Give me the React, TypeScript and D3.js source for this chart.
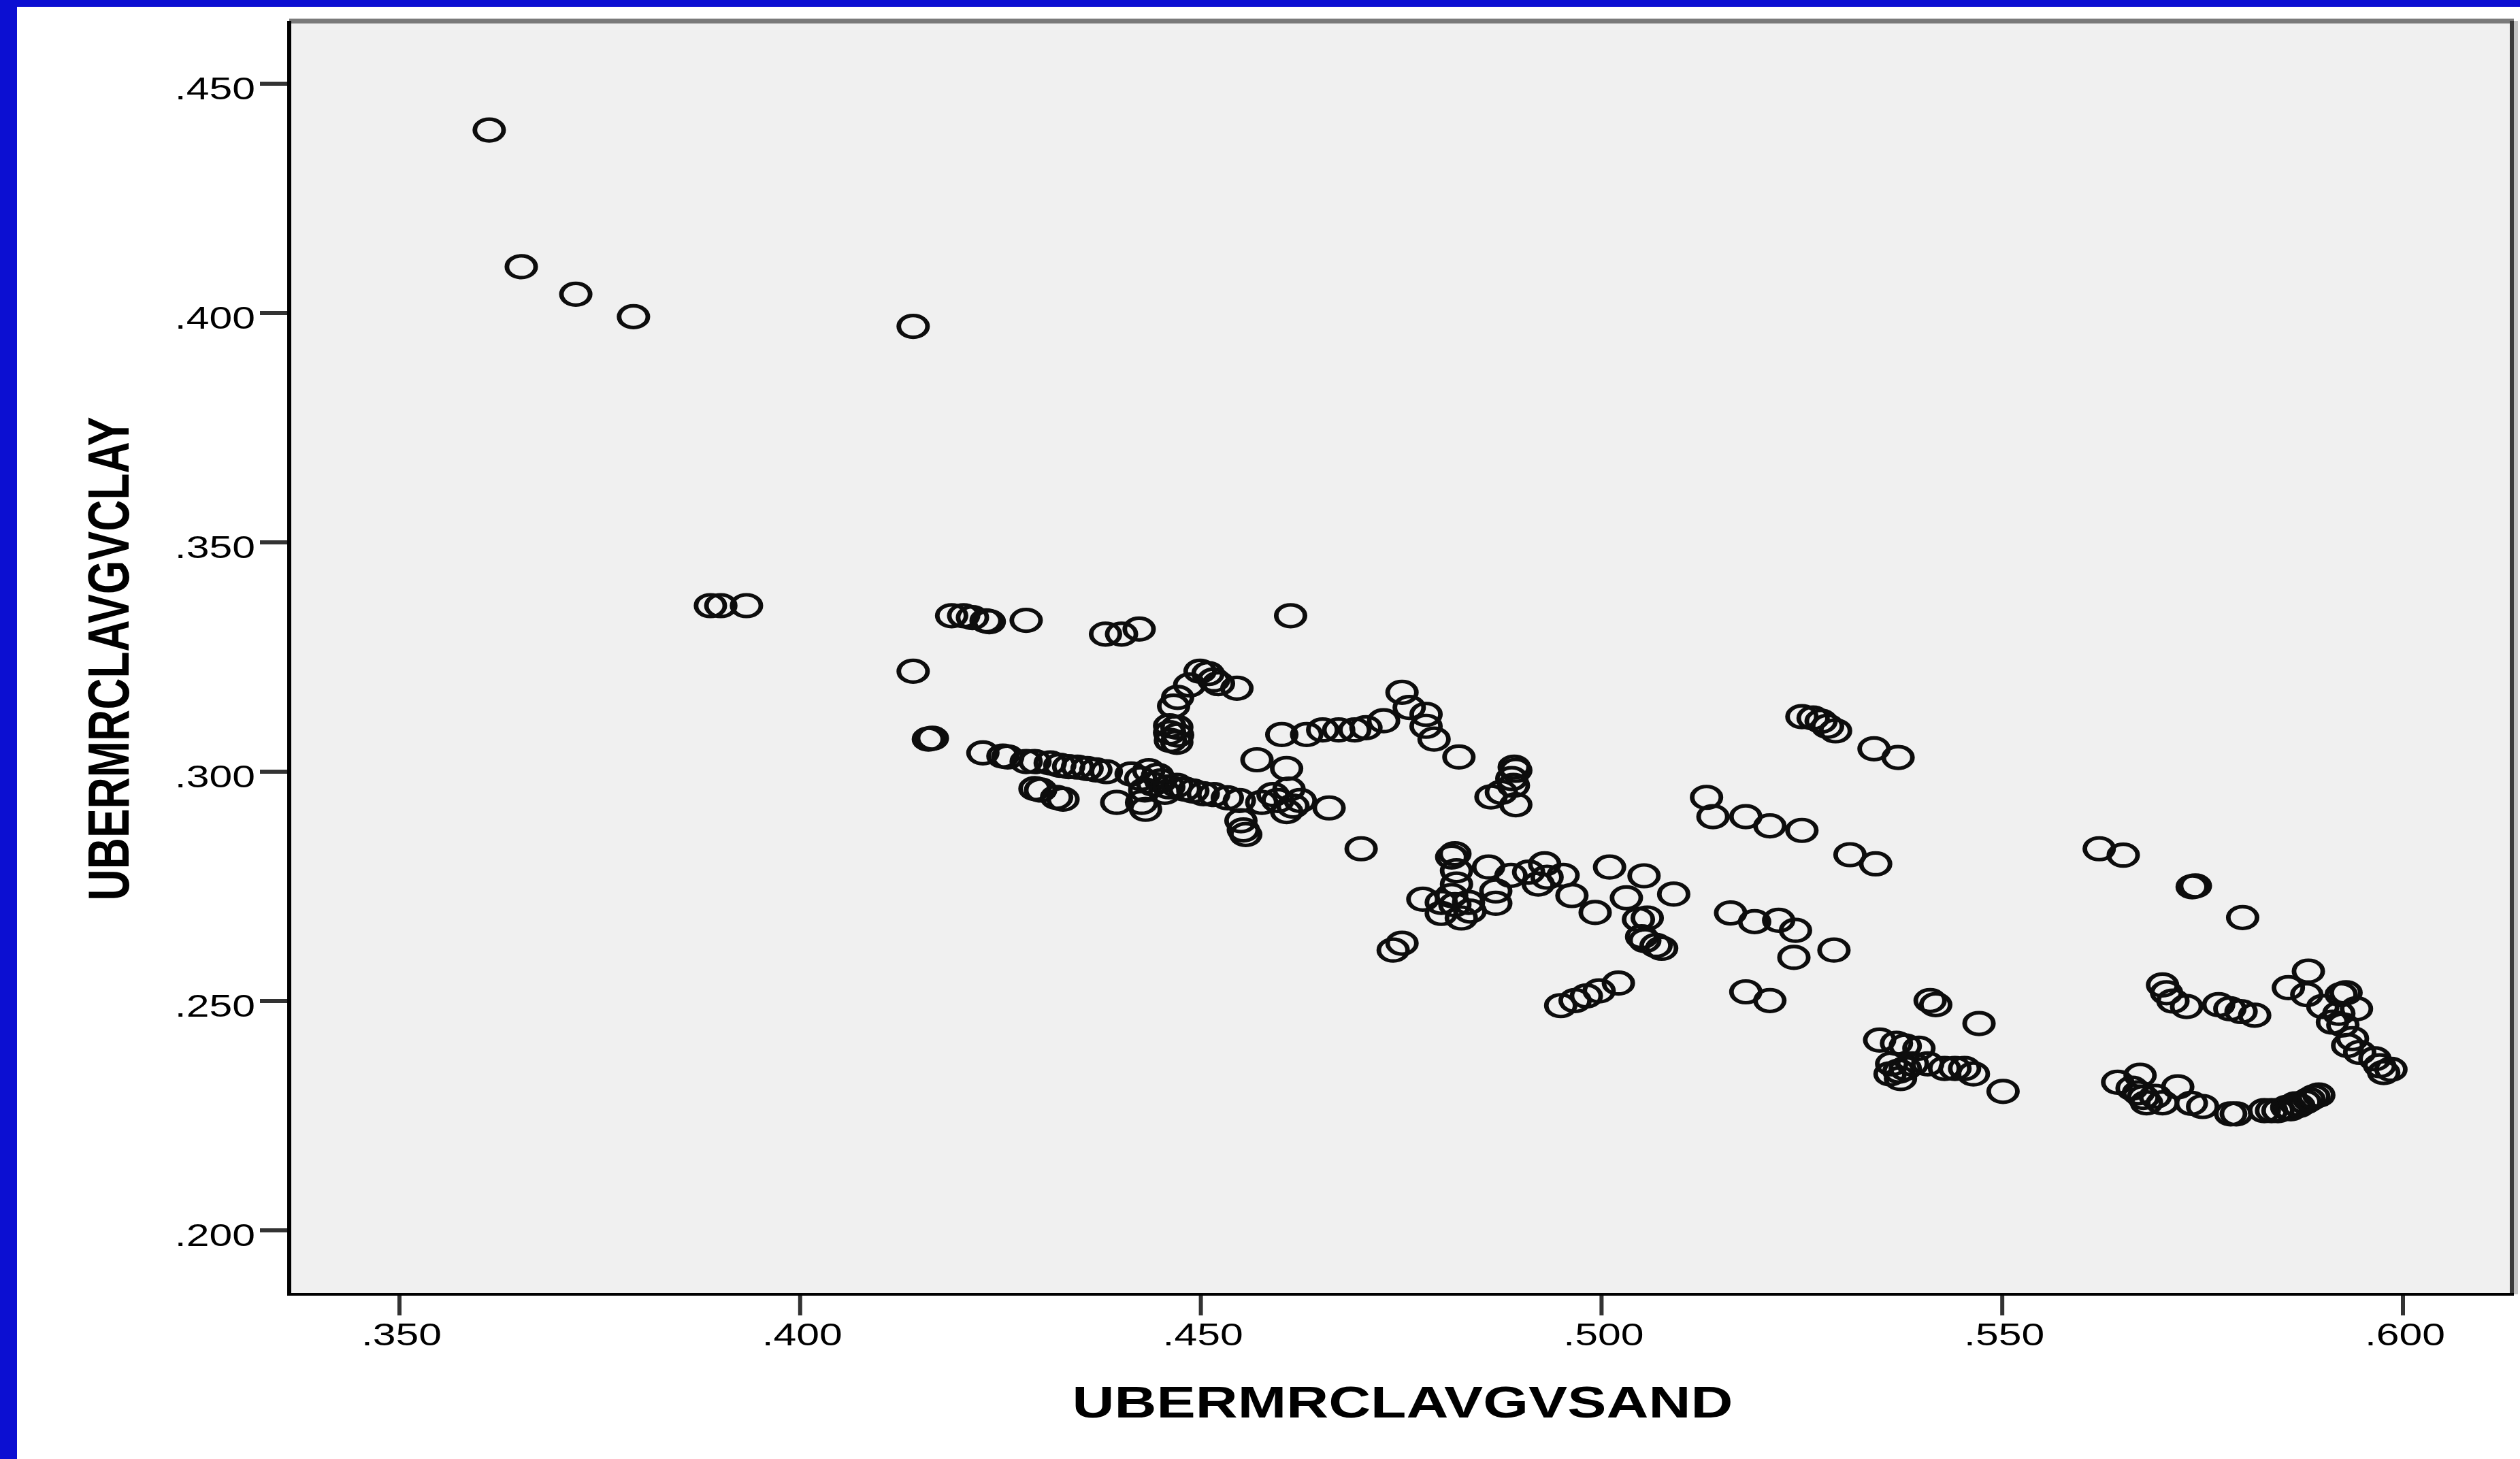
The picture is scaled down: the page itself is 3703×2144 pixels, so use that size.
import * as d3 from "d3";

// axis ticks and titles
const xTicks = [0.35, 0.4, 0.45, 0.5, 0.55, 0.6];
const yTicks = [0.2, 0.25, 0.3, 0.35, 0.4, 0.45];
const xTitle = "UBERMRCLAVGVSAND";
const yTitle = "UBERMRCLAVGVCLAY";

// [avg sand, avg clay]
const observations: [number, number][] = [
  [0.3612, 0.4399], [0.3652, 0.4101], [0.372, 0.4041], [0.3792, 0.3992], [0.4141, 0.3971],
  [0.3888, 0.3362], [0.3901, 0.3362], [0.3933, 0.3362],
  [0.4141, 0.3219], [0.416, 0.3071], [0.4165, 0.3073],
  [0.4189, 0.334], [0.4204, 0.334], [0.4215, 0.3336], [0.4232, 0.3329], [0.4236, 0.3327], [0.4282, 0.333],
  [0.4381, 0.33], [0.4401, 0.33], [0.4423, 0.3311],
  [0.4612, 0.334],
  [0.4466, 0.3143], [0.4471, 0.3162], [0.4486, 0.3189], [0.4499, 0.3219], [0.4509, 0.3214],
  [0.4516, 0.32], [0.4522, 0.3192], [0.4545, 0.3182],
  [0.4461, 0.31], [0.447, 0.3097], [0.4461, 0.3085], [0.4471, 0.308], [0.4462, 0.3068], [0.447, 0.3064],
  [0.4228, 0.3041], [0.4253, 0.3034], [0.4259, 0.3032], [0.4282, 0.3022], [0.4293, 0.3022],
  [0.4312, 0.3019], [0.4324, 0.3014], [0.4335, 0.3011], [0.4346, 0.301], [0.4358, 0.3007],
  [0.4369, 0.3004], [0.4382, 0.3],
  [0.4293, 0.2963], [0.43, 0.296], [0.432, 0.2944], [0.4328, 0.294],
  [0.4395, 0.2933], [0.4426, 0.2933], [0.4431, 0.2918],
  [0.4413, 0.2995], [0.4435, 0.3002], [0.4446, 0.2992], [0.4425, 0.2985], [0.445, 0.298],
  [0.444, 0.2973], [0.443, 0.296], [0.4455, 0.2955], [0.446, 0.2967], [0.447, 0.297],
  [0.448, 0.2962], [0.449, 0.2958], [0.4503, 0.2952], [0.4516, 0.295], [0.4533, 0.2943],
  [0.4548, 0.2937], [0.455, 0.2893], [0.4553, 0.2873], [0.4556, 0.2863],
  [0.457, 0.3026], [0.4607, 0.3007], [0.4576, 0.2933], [0.459, 0.295], [0.4596, 0.2937],
  [0.461, 0.2962], [0.4624, 0.2937], [0.4607, 0.2913], [0.4615, 0.2925],
  [0.4601, 0.3081], [0.4632, 0.3081], [0.4652, 0.3091], [0.4672, 0.3091], [0.4692, 0.3091],
  [0.4706, 0.3096], [0.4728, 0.3111], [0.4751, 0.3173], [0.476, 0.314], [0.4781, 0.3125],
  [0.4781, 0.3099], [0.4791, 0.3071], [0.4822, 0.3032],
  [0.466, 0.2921], [0.47, 0.2832], [0.474, 0.2611], [0.4751, 0.2626],
  [0.4891, 0.301], [0.4893, 0.3003], [0.4888, 0.2985], [0.489, 0.297], [0.4862, 0.2945],
  [0.4893, 0.2928], [0.4875, 0.2955],
  [0.4817, 0.2821], [0.4813, 0.2814], [0.4819, 0.2784], [0.4819, 0.2755], [0.4777, 0.2722],
  [0.48, 0.2715], [0.4817, 0.271], [0.4834, 0.2715], [0.48, 0.2691], [0.4825, 0.2681],
  [0.4836, 0.2696], [0.4813, 0.273], [0.4859, 0.2792], [0.4868, 0.274], [0.4868, 0.2713],
  [0.4887, 0.2774], [0.4909, 0.2781], [0.4929, 0.2799], [0.4932, 0.277], [0.4921, 0.2755],
  [0.4952, 0.2774], [0.4963, 0.273], [0.4992, 0.2693],
  [0.501, 0.2792], [0.5053, 0.2773], [0.5031, 0.2725], [0.509, 0.2733], [0.5057, 0.2681],
  [0.5046, 0.2678], [0.5054, 0.2632], [0.505, 0.264], [0.5068, 0.2621], [0.5075, 0.2615],
  [0.4949, 0.249], [0.4967, 0.2501], [0.4981, 0.2511], [0.4997, 0.2522], [0.5021, 0.2539],
  [0.5131, 0.2944], [0.5139, 0.2902], [0.518, 0.2902], [0.521, 0.2882], [0.525, 0.2872],
  [0.531, 0.2819], [0.5342, 0.2799],
  [0.5161, 0.2692], [0.5191, 0.2673], [0.5221, 0.2676], [0.5242, 0.2654], [0.524, 0.2595], [0.529, 0.2611],
  [0.518, 0.252], [0.521, 0.2501],
  [0.525, 0.312], [0.5264, 0.3117], [0.5274, 0.311], [0.5282, 0.3099], [0.5292, 0.3089],
  [0.534, 0.305], [0.537, 0.3031],
  [0.5347, 0.2415], [0.5368, 0.2408], [0.5379, 0.2402], [0.5396, 0.2397], [0.5362, 0.2363],
  [0.5371, 0.2347], [0.5379, 0.2353], [0.536, 0.2341], [0.5373, 0.2331], [0.5388, 0.2363],
  [0.5407, 0.2363], [0.5428, 0.2353], [0.5441, 0.2353], [0.5453, 0.2353], [0.5464, 0.2341],
  [0.5501, 0.2303],
  [0.541, 0.2501], [0.5417, 0.2492], [0.5471, 0.2451],
  [0.5621, 0.2832], [0.5651, 0.2818], [0.5737, 0.2749], [0.5741, 0.2751], [0.58, 0.2682],
  [0.57, 0.2535], [0.5705, 0.2518], [0.5713, 0.25], [0.573, 0.2488], [0.577, 0.2492],
  [0.5784, 0.2483], [0.5798, 0.2477], [0.5815, 0.2469],
  [0.5882, 0.2565], [0.5857, 0.2529], [0.588, 0.2514], [0.5923, 0.2514], [0.5929, 0.2518],
  [0.59, 0.2488], [0.5942, 0.2483], [0.592, 0.2473], [0.5912, 0.2454], [0.5925, 0.2448],
  [0.5937, 0.2418], [0.5931, 0.2403], [0.5946, 0.2388], [0.5965, 0.2374], [0.5971, 0.2359],
  [0.5985, 0.2351], [0.5976, 0.2344],
  [0.5644, 0.2323], [0.5672, 0.2338], [0.5662, 0.231], [0.567, 0.23], [0.5676, 0.229],
  [0.5691, 0.2292], [0.57, 0.2278], [0.568, 0.2278], [0.5719, 0.2313], [0.5736, 0.2277], [0.575, 0.227],
  [0.5785, 0.2254], [0.5792, 0.2254], [0.5827, 0.2261], [0.5836, 0.2261], [0.5844, 0.2261],
  [0.5855, 0.2268], [0.586, 0.2265], [0.5866, 0.2276], [0.587, 0.2272], [0.5878, 0.228],
  [0.5883, 0.2285], [0.5889, 0.2291], [0.5895, 0.2295],
];

const W = 3703;
const H = 2144;
const plot = { left: 425, right: 3694, top: 31, bottom: 1902 };
const stretch = 1.32; // the source picture is wider than tall, text and rings are stretched
const font = "'Liberation Sans', Arial, sans-serif";

const x = d3.scaleLinear().domain([0.35, 0.6]).range([587, 3531]);
const y = d3.scaleLinear().domain([0.2, 0.45]).range([1808, 123]);
const fmt = (v: number) => d3.format(".3f")(v).replace(/^0/, "");

export default function App() {
  return (
    <div style={{ position: "absolute", left: 0, top: 0 }}>
      <svg width={W} height={H} style={{ display: "block" }}>
        <rect x={0} y={0} width={W} height={H} fill="#ffffff" />
        <rect x={0} y={0} width={25} height={H} fill="#0c0fd2" />
        <rect x={0} y={0} width={W} height={10} fill="#0c0fd2" />

        <rect
          x={plot.left}
          y={plot.top}
          width={plot.right - plot.left}
          height={plot.bottom - plot.top}
          fill="#f0f0f0"
        />

        {observations.map(([s, c], i) => (
          <circle
            key={i}
            r={16}
            fill="none"
            stroke="#0d0d0d"
            strokeWidth={5.2}
            transform={`translate(${x(s)},${y(c)}) scale(${stretch},1)`}
          />
        ))}

        {/* frame */}
        <line x1={plot.left} x2={plot.right} y1={plot.top} y2={plot.top} stroke="#7a7a7a" strokeWidth={7} />
        <line x1={plot.right - 3} x2={plot.right - 3} y1={plot.top} y2={plot.bottom} stroke="#3c3c3c" strokeWidth={6} />
        <line x1={plot.right + 3} x2={plot.right + 3} y1={plot.top} y2={plot.bottom} stroke="#c4c4c4" strokeWidth={6} />
        <line x1={plot.left} x2={plot.left} y1={plot.top} y2={plot.bottom + 2} stroke="#000" strokeWidth={6} />
        <line x1={plot.left - 3} x2={plot.right} y1={plot.bottom} y2={plot.bottom} stroke="#000" strokeWidth={4} />

        {/* x axis */}
        {xTicks.map((t) => (
          <g key={t}>
            <line x1={x(t)} x2={x(t)} y1={plot.bottom + 2} y2={plot.bottom + 31} stroke="#333" strokeWidth={6} />
            <text
              transform={`translate(${x(t) + 3},1977) scale(${stretch},1)`}
              textAnchor="middle"
              fontFamily={font}
              fontSize={46}
              fill="#000"
            >
              {fmt(t)}
            </text>
          </g>
        ))}

        {/* y axis */}
        {yTicks.map((t) => (
          <g key={t}>
            <line x1={plot.left - 43} x2={plot.left - 3} y1={y(t)} y2={y(t)} stroke="#333" strokeWidth={6} />
            <text
              transform={`translate(375,${y(t) + 23}) scale(${stretch},1)`}
              textAnchor="end"
              fontFamily={font}
              fontSize={46}
              fill="#000"
            >
              {fmt(t)}
            </text>
          </g>
        ))}

        <text
          transform={`translate(2061,2083) scale(${stretch},1)`}
          textAnchor="middle"
          fontFamily={font}
          fontWeight="bold"
          fontSize={65}
          fill="#000"
        >
          {xTitle}
        </text>
        <text
          transform={`translate(189,968) scale(${stretch},1) rotate(-90)`}
          textAnchor="middle"
          fontFamily={font}
          fontWeight="bold"
          fontSize={64}
          fill="#000"
        >
          {yTitle}
        </text>
      </svg>
    </div>
  );
}
